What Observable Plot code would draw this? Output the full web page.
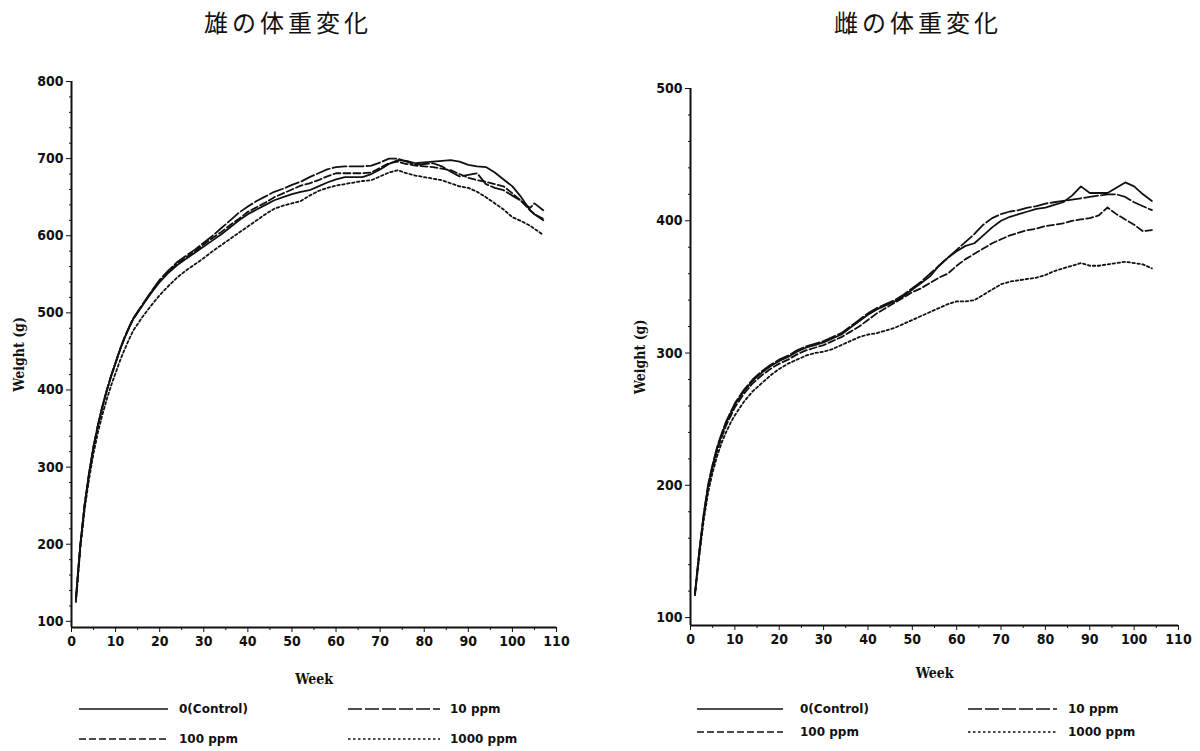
<!DOCTYPE html>
<html><head><meta charset="utf-8">
<script src="https://cdn.jsdelivr.net/npm/d3@7"></script>
<script src="https://cdn.jsdelivr.net/npm/@observablehq/plot@0.6"></script>
<style>
html,body{margin:0;padding:0;background:#fff;}
#root{position:relative;width:1200px;height:751px;overflow:hidden;background:#fff;}
.title{position:absolute;top:7px;font-family:"Noto Sans CJK JP","Noto Sans CJK SC",sans-serif;font-size:24px;letter-spacing:4px;color:#111;transform:translateX(-50%);white-space:nowrap;line-height:30px;}
.plot{position:absolute;top:60px;}
.legend{position:absolute;top:690px;}
g[aria-label="x-axis label"] text, g[aria-label="y-axis label"] text{font-family:"DejaVu Serif Condensed","DejaVu Serif",serif;font-size:14px;font-weight:bold;}
</style></head>
<body><div id="root"></div>
<script>
// ---------- data ----------
const xTicks = [0,10,20,30,40,50,60,70,80,90,100,110];
const maleYTicks = [100,200,300,400,500,600,700,800];
const femaleYTicks = [100,200,300,400,500];
const groups = ["0(Control)","10 ppm","100 ppm","1000 ppm"];

const maleWeeks = [1,2,3,4,5,6,7,8,9,10,11,12,13,14,16,18,20,22,24,26,28,30,32,34,36,38,40,42,44,46,48,50,52,54,56,58,60,62,64,66,68,70,72,74,76,78,80,82,84,86,88,90,92,94,96,98,100,102,104,105,107];
const maleControl = [130,200,252,292,326,354,378,399,418,435,452,467,480,492,
  509,525,540,552,562,570,578,586,594,602,611,620,628,
  634,640,646,650,654,657,659,664,669,673,676,676,
  676,680,686,693,698,697,694,695,696,697,698,696,
  692,690,689,682,673,664,650,633,
  628,620];
const male10 = [128,198,252,293,327,355,379,400,419,436,453,468,481,493,
  510,527,543,555,566,574,582,591,600,610,620,630,638,
  645,651,657,661,666,670,676,681,686,689,690,690,
  690,691,695,700,700,696,692,693,694,690,683,677,
  679,681,667,662,659,652,645,636,
  642,633];
const male100 = [129,199,252,292,326,354,378,399,418,435,452,467,480,492,
  509,526,541,554,564,572,580,589,597,605,614,622,631,
  637,643,650,655,660,665,668,672,677,681,681,681,
  681,682,688,694,696,693,691,690,689,687,685,680,
  675,672,670,667,664,655,645,633,
  628,622];
const male1000 = [125,194,246,285,318,345,368,388,406,422,438,452,465,477,
  494,509,523,535,546,555,563,571,580,588,596,604,612,
  620,628,635,639,642,645,652,658,662,665,667,669,
  671,672,677,682,685,681,678,676,674,672,668,664,
  662,657,650,642,634,624,619,613,
  609,601];

const femaleWeeks = [1,2,3,4,5,6,7,8,9,10,11,12,13,14,16,18,20,22,24,26,28,30,32,34,36,38,40,42,44,46,48,50,52,54,56,58,60,62,64,66,68,70,72,74,76,78,80,82,84,86,88,90,92,94,96,98,100,102,104];
const femaleControl = [118,150,178,200,215,228,238,247,254,261,266,271,275,279,
  285,290,294,297,301,304,306,308,311,314,319,324,329,333,336,
  339,343,348,353,358,366,372,377,381,383,389,395,400,403,405,
  407,409,410,412,414,419,426,421,421,421,425,429,426,420,415];
const female10 = [118,151,179,201,216,229,239,248,255,262,267,272,276,280,
  286,291,295,298,302,305,307,309,312,315,320,325,330,334,337,
  340,344,349,354,360,366,372,378,384,390,397,402,405,407,408,
  410,411,413,414,415,416,417,418,419,420,420,418,414,411,408];
const female100 = [117,149,177,198,213,226,236,245,252,259,264,269,273,277,
  283,288,292,295,299,302,304,306,309,312,316,320,325,330,334,
  338,342,346,349,353,357,360,366,371,375,379,383,386,389,391,
  393,394,396,397,398,400,401,402,404,410,405,401,397,392,393];
const female1000 = [117,147,174,195,210,222,232,240,247,253,258,263,267,271,
  277,283,288,292,295,298,300,301,303,306,309,312,314,315,317,
  319,322,325,328,331,334,337,339,339,340,344,348,352,354,355,
  356,357,359,362,364,366,368,366,366,367,368,369,368,367,364];

// ---------- styles ----------
const dashes = {"0(Control)": null, "10 ppm": "14,3", "100 ppm": "7,3", "1000 ppm": "2.5,2.5"};
const INK = "#111";
const tickFont = '"DejaVu Sans Condensed","Liberation Sans Narrow","DejaVu Sans",sans-serif';

function chart({weeks, values, yDomain, yTicks, width, height, margins, xLabelOffset, yLabelOffset}) {
  const rows = groups.flatMap((g, k) => values[k].map((v, i) => ({group: g, week: weeks[i], weight: v})));
  const xMinor = d3.range(5, 110, 10);
  const yMinor = d3.range(Math.ceil(yDomain[0] / 20) * 20, yDomain[1], 20).filter(v => v % 100 !== 0);
  return Plot.plot({
    width, height, ...margins,
    style: {fontFamily: tickFont, fontSize: "14px", fontWeight: "bold", color: INK, background: "transparent", overflow: "visible"},
    x: {domain: [0, 110]},
    y: {domain: yDomain},
    marks: [
      Plot.axisX({ticks: xTicks, tickSize: 5, tickPadding: 4, label: "Week", labelAnchor: "center", labelOffset: xLabelOffset, labelArrow: "none"}),
      Plot.axisX({ticks: xMinor, tickSize: 3, tickFormat: () => "", label: null}),
      Plot.axisY({ticks: yTicks, tickSize: 5, tickPadding: 3, label: "Weight (g)", labelAnchor: "center", labelOffset: yLabelOffset, labelArrow: "none"}),
      Plot.axisY({ticks: yMinor, tickSize: 2, tickFormat: () => "", label: null}),
      Plot.ruleX([0], {stroke: INK, strokeWidth: 2}),
      Plot.ruleY([yDomain[0]], {stroke: INK, strokeWidth: 2}),
      ...groups.map(g => Plot.line(rows.filter(r => r.group === g), {
        x: "week", y: "weight", stroke: INK, strokeWidth: 1.8,
        strokeDasharray: dashes[g], curve: "linear"
      }))
    ]
  });
}

function legend(el, cols, rowsY) {
  const svg = d3.select(el).append("svg").attr("width", 600).attr("height", 60);
  groups.forEach((g, k) => {
    const c = cols[k % 2], y = rowsY[Math.floor(k / 2)];
    svg.append("line").attr("x1", c[0]).attr("x2", c[1]).attr("y1", y).attr("y2", y)
      .attr("stroke", INK).attr("stroke-width", 1.6).attr("stroke-dasharray", dashes[g]);
    svg.append("text").attr("x", c[2]).attr("y", y).attr("dy", "0.35em")
      .attr("font-family", '"DejaVu Sans",sans-serif').attr("font-size", 12).attr("font-weight", "bold")
      .attr("fill", INK).text(g);
  });
}

const root = document.getElementById("root");

function addTitle(text, cx) {
  const d = document.createElement("div");
  d.className = "title"; d.style.left = cx + "px"; d.textContent = text;
  root.appendChild(d);
}
addTitle("雄の体重変化", 288);
addTitle("雌の体重変化", 918);

// left (male)
const left = document.createElement("div");
left.className = "plot"; left.style.left = "0px";
left.appendChild(chart({
  weeks: maleWeeks, values: [maleControl, male10, male100, male1000],
  yDomain: [92, 800], yTicks: maleYTicks, width: 600, height: 640,
  margins: {marginLeft: 71, marginRight: 44, marginTop: 21, marginBottom: 73},
  xLabelOffset: 56, yLabelOffset: 57
}));
root.appendChild(left);

// right (female)
const right = document.createElement("div");
right.className = "plot"; right.style.left = "620px";
right.appendChild(chart({
  weeks: femaleWeeks, values: [femaleControl, female10, female100, female1000],
  yDomain: [94, 500], yTicks: femaleYTicks, width: 580, height: 640,
  margins: {marginLeft: 70, marginRight: 22, marginTop: 28, marginBottom: 75},
  xLabelOffset: 52, yLabelOffset: 55
}));
root.appendChild(right);

// legends
const lg1 = document.createElement("div"); lg1.className = "legend"; lg1.style.left = "0px"; root.appendChild(lg1);
legend(lg1, [[79, 168, 179], [348, 440, 450]], [19, 49]);
const lg2 = document.createElement("div"); lg2.className = "legend"; lg2.style.left = "600px"; root.appendChild(lg2);
legend(lg2, [[97, 183, 200], [368, 457, 468]], [19, 42]);
</script>
</body></html>
